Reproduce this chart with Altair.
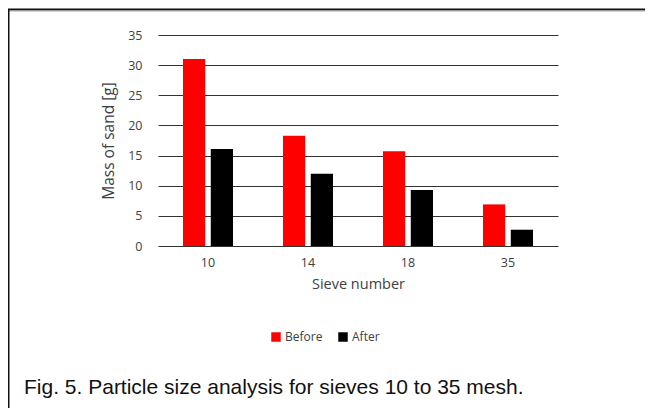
import altair as alt
import pandas as pd

sieves = ["10", "14", "18", "35"]
before = [31.0, 18.3, 15.7, 6.9]
after = [16.1, 12.0, 9.3, 2.7]
series = ["Before", "After"]
colors = ["#ff0000", "#000000"]
y_ticks = [0, 5, 10, 15, 20, 25, 30, 35]
caption = "Fig. 5. Particle size analysis for sieves 10 to 35 mesh."

rows = []
for s, b, a in zip(sieves, before, after):
    rows.append({"sieve": s, "series": "Before", "mass": b})
    rows.append({"sieve": s, "series": "After", "mass": a})
df = pd.DataFrame(rows)

W, H = 400, 211
FONT = "Open Sans"
TXT = "#404040"

bars = alt.Chart(df).mark_bar().encode(
    x=alt.X("sieve:N", sort=sieves,
            scale=alt.Scale(paddingInner=0.5, paddingOuter=0.25),
            axis=alt.Axis(title="Sieve number", labelAngle=0, ticks=False, domain=False, grid=False,
                          labelFont=FONT, labelFontSize=12.5, labelColor=TXT, labelPadding=10,
                          titleFont=FONT, titleFontSize=14.5, titleFontWeight="normal",
                          titleColor=TXT, titlePadding=9)),
    xOffset=alt.XOffset("series:N", sort=series, scale=alt.Scale(paddingInner=0.2)),
    y=alt.Y("mass:Q",
            scale=alt.Scale(domain=[0, 35], nice=False),
            axis=alt.Axis(title="Mass of sand [g]", values=y_ticks, ticks=False, domain=False,
                          grid=True, gridColor="#333333", gridWidth=1,
                          labelFont=FONT, labelFontSize=12.5, labelColor=TXT, labelPadding=16,
                          titleFont=FONT, titleFontSize=15.5, titleFontWeight="normal",
                          titleColor=TXT, titlePadding=11)),
    color=alt.Color("series:N", sort=series,
                    scale=alt.Scale(domain=series, range=colors),
                    legend=alt.Legend(title=None, orient="none", direction="horizontal",
                                      legendX=112, legendY=296, symbolType="square",
                                      symbolSize=90, symbolStrokeWidth=0,
                                      labelFont=FONT, labelFontSize=12, labelColor=TXT,
                                      columnPadding=14, labelOffset=3)),
)

cap_df = pd.DataFrame({"text": [caption]})
cap = alt.Chart(cap_df).mark_text(
    font="Liberation Sans", fontSize=21, align="left", baseline="middle", color="#111111"
).encode(text="text:N", x=alt.value(-134), y=alt.value(353))

border_top = alt.Chart(cap_df).mark_rule(color="#111111", strokeWidth=2).encode(
    x=alt.value(-150), x2=alt.value(500), y=alt.value(-25.5))
border_shadow = alt.Chart(cap_df).mark_rule(color="#aaaaaa", strokeWidth=1).encode(
    x=alt.value(-149), x2=alt.value(500), y=alt.value(-24))
border_left = alt.Chart(cap_df).mark_rule(color="#111111", strokeWidth=2).encode(
    x=alt.value(-149.5), y=alt.value(-26), y2=alt.value(390))

chart = alt.layer(bars, cap, border_top, border_shadow, border_left).properties(
    width=W, height=H,
    background="white",
    autosize=alt.AutoSizeParams(type="none"),
    padding={"left": 150, "top": 27, "right": 87, "bottom": 162},
).configure_view(strokeWidth=0)

chart.save("out.html", embed_options={"renderer": "svg", "actions": False})
